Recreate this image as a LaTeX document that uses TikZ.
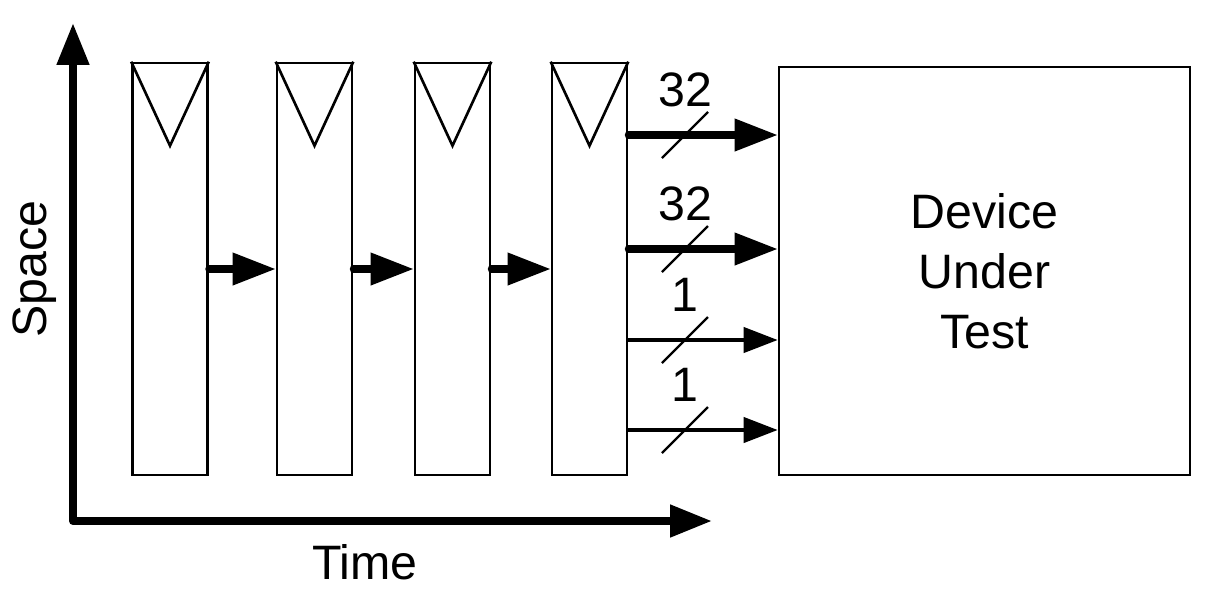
\documentclass[tikz,border=0pt]{standalone}
\usepackage{fontspec}
\setmainfont{Liberation Sans}
\usetikzlibrary{arrows.meta,calc}
\begin{document}
\begin{tikzpicture}[x=0.02cm,y=-0.02cm,
		font=\fontsize{27.5}{34}\selectfont,
		reg/.style={draw,line width=1.5pt,minimum width=1.5cm,minimum height=8.24cm,inner sep=0pt},
		fat/.style={line width=4pt,line cap=round,-{Triangle[length=0.86cm,width=0.62cm]}},
		thin/.style={line width=2.3pt,line cap=round,-{Triangle[length=0.68cm,width=0.5cm]}},
		axis/.style={line width=4.5pt,line join=round,{Triangle[length=0.84cm,width=0.62cm]}-{Triangle[length=0.84cm,width=0.62cm]}},
		slash/.style={line width=1.3pt}]
		\useasboundingbox (0,0) rectangle (1217,593);
		\coordinate (stop) at (73,23);
		\coordinate (origin) at (73,521);
		\coordinate (tend) at (712,521);
		\draw[axis] (stop) -- (origin) -- (tend);
		\node[rotate=90] (space) at (35,269) {Space};
		\node (time) at (365,562) {Time};
		\foreach \n/\x in {1/170,2/314.5,3/452.5,4/589.5}{
			\node[reg] (reg\n) at (\x,269) {};
			\draw[line width=1.5pt] (reg\n.north west) -- ($(reg\n.north)+(0,84)$) -- (reg\n.north east);
		}
		\foreach \a/\b in {1/2,2/3,3/4}
		\draw[fat] (reg\a.east) -- (reg\b.west);
		\node[draw,line width=1.5pt,minimum width=8.22cm,minimum height=8.16cm,align=center] (dut) at (984.5,271) {Device\\Under\\Test};
		\foreach \n/\y/\w/\s in {1/135/32/fat,2/249/32/fat,3/340/1/thin,4/430/1/thin}{
			\coordinate (bus\n) at (685,\y);
			\draw[\s] (reg4.east |- bus\n) -- (dut.west |- bus\n);
			\draw[slash] ($(bus\n)+(-23,23)$) -- ($(bus\n)+(23,-23)$);
			\node (w\n) at ($(bus\n)+(0,-45)$) {\w};
		}
\end{tikzpicture}
\end{document}
